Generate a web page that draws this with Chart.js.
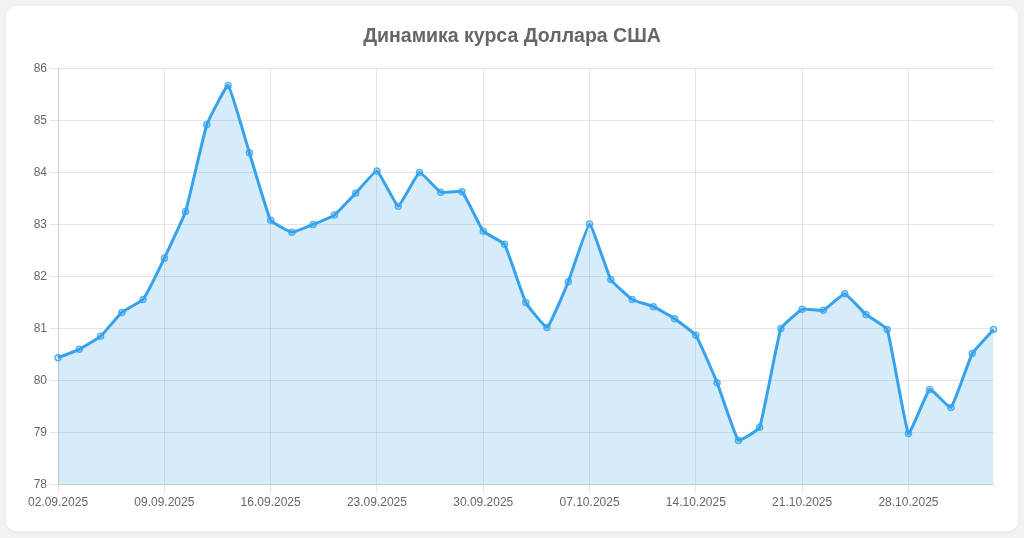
<!DOCTYPE html>
<html>
<head>
<meta charset="utf-8">
<script src="https://cdn.jsdelivr.net/npm/chart.js@4.4.0/dist/chart.umd.min.js"></script>
<style>
  html, body { margin: 0; padding: 0; }
  body { width: 1024px; height: 538px; background: #f1f3f2; overflow: hidden; position: relative; font-family: "Liberation Sans", Arial, sans-serif; }
  .card { position: absolute; left: 6px; top: 6px; width: 1012px; height: 525px; background: #fff; border-radius: 10px; box-shadow: 0 1px 4px rgba(0,0,0,0.06); }
  .wrap { position: absolute; left: 19px; top: 10px; width: 974px; height: 497px; }
</style>
</head>
<body>
<div class="card"><div class="wrap"><canvas id="c"></canvas></div></div>
<script>
const titleText = "Динамика курса Доллара США";
const dates = [
  "02.09.2025","03.09.2025","04.09.2025","05.09.2025","06.09.2025",
  "09.09.2025","10.09.2025","11.09.2025","12.09.2025","13.09.2025",
  "16.09.2025","17.09.2025","18.09.2025","19.09.2025","20.09.2025",
  "23.09.2025","24.09.2025","25.09.2025","26.09.2025","27.09.2025",
  "30.09.2025","01.10.2025","02.10.2025","03.10.2025","04.10.2025",
  "07.10.2025","08.10.2025","09.10.2025","10.10.2025","11.10.2025",
  "14.10.2025","15.10.2025","16.10.2025","17.10.2025","18.10.2025",
  "21.10.2025","22.10.2025","23.10.2025","24.10.2025","25.10.2025",
  "28.10.2025","29.10.2025","30.10.2025","31.10.2025","01.11.2025"
];
const usdRate = [
  80.44, 80.60, 80.85, 81.31, 81.56,
  82.35, 83.25, 84.92, 85.67, 84.38,
  83.08, 82.85, 83.00, 83.18, 83.60,
  84.03, 83.35, 84.00, 83.62, 83.63,
  82.87, 82.62, 81.50, 81.02, 81.90,
  83.01, 81.94, 81.56, 81.42, 81.19,
  80.87, 79.96, 78.85, 79.10, 81.00,
  81.37, 81.35, 81.67, 81.27, 80.98,
  78.98, 79.83, 79.48, 80.52, 80.98
];
const yMin = 78, yMax = 86, yStep = 1;

new Chart(document.getElementById('c'), {
  type: 'line',
  data: {
    labels: dates,
    datasets: [{
      label: 'USD',
      data: usdRate,
      borderColor: '#36a2eb',
      backgroundColor: 'rgba(54,162,235,0.2)',
      fill: true,
      borderWidth: 3,
      tension: 0.1,
      pointRadius: 3,
      pointBorderWidth: 1.5,
      pointBorderColor: 'rgba(54,162,235,0.8)',
      pointBackgroundColor: 'rgba(54,162,235,0.2)'
    }]
  },
  options: {
    responsive: true,
    maintainAspectRatio: false,
    animation: false,
    plugins: {
      legend: { display: false },
      title: {
        display: true,
        text: titleText,
        color: '#666',
        font: { size: 19.5, weight: 'bold', family: '"Liberation Sans", Arial, sans-serif' },
        padding: { top: 9, bottom: 20 }
      },
      tooltip: { enabled: false }
    },
    scales: {
      x: {
        ticks: { color: '#666', font: { size: 12 }, maxRotation: 0, autoSkip: true, maxTicksLimit: 9 },
        grid: { color: 'rgba(0,0,0,0.1)' }
      },
      y: {
        min: yMin, max: yMax,
        ticks: { stepSize: yStep, color: '#666', font: { size: 12 } },
        grid: { color: 'rgba(0,0,0,0.1)' }
      }
    }
  }
});
</script>
</body>
</html>
